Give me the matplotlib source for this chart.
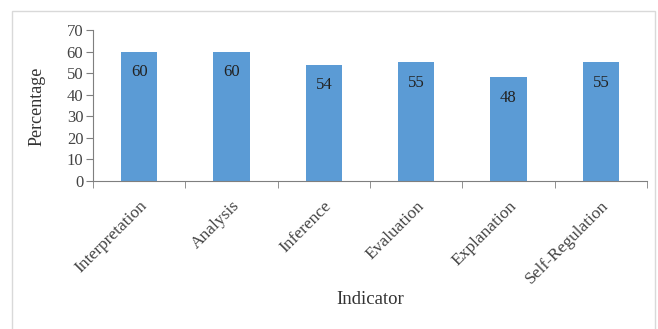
import matplotlib
matplotlib.use("Agg")
import matplotlib.pyplot as plt
from matplotlib.patches import Rectangle
from matplotlib.transforms import ScaledTranslation

categories = ["Interpretation", "Analysis", "Inference", "Evaluation", "Explanation", "Self-Regulation"]
values = [60, 60, 54, 55, 48, 55]
yticks = [0, 10, 20, 30, 40, 50, 60, 70]

plt.rcParams['font.family'] = ['Liberation Serif', 'DejaVu Serif']

fig = plt.figure(figsize=(6.58, 3.29), dpi=100)
fig.patches.append(Rectangle((12/658, -0.01), (655-12)/658, 1 - 11/329 + 0.01,
                             transform=fig.transFigure, fill=False,
                             edgecolor='#D9D9D9', linewidth=1))
ax = fig.add_axes([93/658, 1 - 181/329, (647-93)/658, (181-30)/329])

x = list(range(len(categories)))
bars = ax.bar(x, values, width=0.39, color='#5B9BD5', zorder=2)
for xi, v in zip(x, values):
    ax.annotate(str(v), (xi, v), xytext=(0, -15), textcoords='offset points',
                ha='center', va='center', fontsize=12, color='#222222')

ax.set_xlim(-0.5, len(categories) - 0.5)
ax.set_ylim(0, 70)
ax.set_yticks(yticks)
ax.set_yticklabels([str(t) for t in yticks], fontsize=12, color='#444444')

ax.set_xticks(x)
labels = ax.set_xticklabels(categories, rotation=45, ha='right', rotation_mode='anchor',
                            fontsize=12.5, color='#444444')
offset = ScaledTranslation(-5/100, 0, fig.dpi_scale_trans)
for lab in labels:
    lab.set_transform(lab.get_transform() + offset)
ax.tick_params(axis='x', length=0, pad=12)
ax.set_xticks([i - 0.5 for i in range(len(categories) + 1)], minor=True)
ax.tick_params(axis='x', which='minor', length=5, color='#7F7F7F', direction='out')
ax.tick_params(axis='y', length=5, color='#7F7F7F', direction='out', pad=2)

for s in ['top', 'right']:
    ax.spines[s].set_visible(False)
for s in ['left', 'bottom']:
    ax.spines[s].set_color('#7F7F7F')
    ax.spines[s].set_linewidth(0.8)

fig.text(37/658, 1 - 106/329, "Percentage", rotation=90, ha='center', va='center',
         fontsize=13, color='#333333')
fig.text(370/658, 1 - 300/329, "Indicator", ha='center', va='center',
         fontsize=13.5, color='#333333')

fig.savefig("out.png", dpi=100)
